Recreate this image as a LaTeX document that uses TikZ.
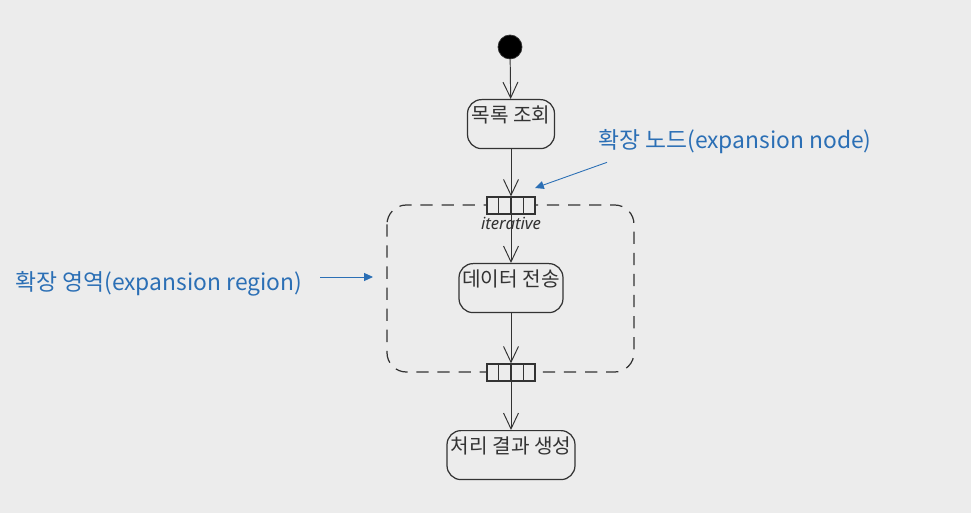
\documentclass[tikz,border=0pt]{standalone}
\usepackage{fontspec}
\setmainfont{Noto Sans CJK KR}
\newfontfamily\notelatin{Noto Sans}
\usepackage{tikz}
\usetikzlibrary{positioning, arrows.meta, calc}
\definecolor{uml-bg}{HTML}{ECECEC}
\definecolor{uml-line}{HTML}{333333}
\definecolor{note-blue}{HTML}{2B6FB5}

\tikzset{
  actbox/.style={draw=uml-line, line width=0.7pt, rounded corners=8pt, fill=uml-bg,
    inner xsep=0pt, inner ysep=0pt, text height=0.45cm, text depth=0.53cm,
    font=\fontsize{11.5}{13}\selectfont, text=uml-line, anchor=north},
  flow/.style={draw=uml-line, line width=0.55pt, -{Straight Barb[length=9pt, width=8.5pt]}},
  expnode/.style={draw=uml-line, line width=0.7pt, fill=uml-bg,
    minimum width=0.96cm, minimum height=0.34cm, inner sep=0pt},
  note/.style={text=note-blue, font=\fontsize{13}{15}\selectfont, anchor=west},
  noteArrow/.style={draw=note-blue, line width=0.5pt, -{Triangle[length=5pt, width=4.5pt]}}
}

\begin{document}
\begin{tikzpicture}[x=0.02cm, y=-0.02cm]
        \fill[uml-bg] (0,0) rectangle (971,513);
        \useasboundingbox (0,0) rectangle (971,513);

        \node[circle, fill=black, draw=uml-line, minimum size=0.48cm, inner sep=0pt] (start) at (510,47) {};
        \node[actbox, minimum width=1.74cm] (list) at (511,99) {목록 조회};

        % expansion region
        \draw[uml-line, line width=0.7pt, dash pattern=on 7pt off 5pt, rounded corners=11pt]
            (387,205) rectangle (634,372);
        \node[expnode] (expin) at (511,205.5) {};
        \node[expnode] (expout) at (511,372.5) {};
        \foreach \n in {expin, expout} {
            \foreach \k in {1,2,3} {
                \draw[uml-line, line width=0.7pt] ($(\n.north west)!\k/4!(\n.north east)$)
                    -- ($(\n.south west)!\k/4!(\n.south east)$);
            }
        }
        \node[font=\notelatin\itshape\fontsize{9.5}{11}\selectfont, text=uml-line, below=-2pt of expin] (iter) {iterative};

        \node[actbox, minimum width=2.08cm] (send) at (511,263) {데이터 전송};
        \node[actbox, minimum width=2.56cm] (result) at (511,430) {처리 결과 생성};

        \draw[flow] (start) -- (list);
        \draw[flow] (list) -- (expin);
        \draw[flow] (expin) -- (send);
        \draw[flow] (send) -- (expout);
        \draw[flow] (expout) -- (result);

        % notes
        \node[note] (nodenote) at (592,142) {확장 노드(expansion node)};
        \coordinate (nodetip) at (535,188);
        \draw[noteArrow] ($(nodenote.south west)+(15,2)$) -- (nodetip);
        \node[note] (regionnote) at (9,284) {확장 영역(expansion region)};
        \coordinate (regiontip) at (373,277);
        \draw[noteArrow] ($(regionnote.east)+(12,-7)$) -- (regiontip);
    \end{tikzpicture}
\end{document}
